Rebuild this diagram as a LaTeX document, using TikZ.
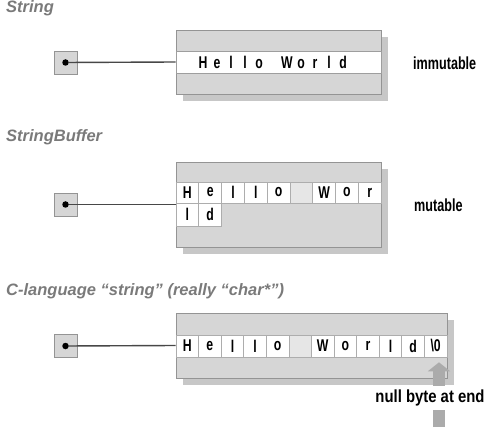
\documentclass[tikz,border=0pt]{standalone}
\usepackage{fontspec}
\setmainfont{Liberation Sans}
\newfontfamily\titlefont{Liberation Sans}
\newfontfamily\labfont[FakeStretch=0.85]{Liberation Sans}
\newfontfamily\narrowlabfont[FakeStretch=0.72]{Liberation Sans}
\newfontfamily\cellfont[FakeStretch=0.72]{Liberation Sans}
\usetikzlibrary{shadows,arrows.meta}
\definecolor{boxgray}{HTML}{D6D6D6}
\definecolor{spacegray}{HTML}{E6E6E6}
\newcommand\celltext{\cellfont\bfseries\fontsize{17}{19}\selectfont}
\newcommand\labtext{\labfont\bfseries\fontsize{17.5}{19}\selectfont}
\newcommand\narrowlabtext{\narrowlabfont\bfseries\fontsize{17.5}{19}\selectfont}
\newcommand\lt[1]{\makebox[14pt]{#1}}
\tikzset{
  membox/.style={draw=black!42, fill=boxgray, inner sep=0pt, line width=0.8pt,
    drop shadow={shadow xshift=7pt, shadow yshift=-7pt, fill=black!22, opacity=1}},
  band/.style={draw=black!38, fill=white, inner sep=0pt, line width=0.6pt},
  cellbox/.style={draw=black!32, fill=white, inner sep=0pt, line width=0.6pt,
    minimum width=22.6pt, minimum height=21pt, font=\celltext},
  ptrbox/.style={draw=black!42, fill=boxgray, minimum size=23pt, inner sep=0pt, line width=0.8pt},
  ptrdot/.style={circle, fill=black, inner sep=0pt, minimum size=6.5pt},
  conn/.style={draw=black!72, line width=1.4pt},
  titletext/.style={anchor=base west, inner sep=0pt, text=black!52,
    font=\titlefont\bfseries\itshape\fontsize{16.5}{19}\selectfont},
  note/.style={inner sep=0pt, font=\labtext},
  narrownote/.style={inner sep=0pt, font=\narrowlabtext},
  bigarrow/.style={draw=black!33, line width=12pt, -{Triangle[width=22pt,length=9pt]}}
}
\begin{document}
\begin{tikzpicture}[x=1pt,y=-1pt]
\useasboundingbox (0,0) rectangle (484,430);

% ---------- String ----------
\node[titletext] (t1) at (6,13) {String};
\node[membox, minimum width=205pt, minimum height=64pt] (b1) at (278.5,62) {};
\node[band, minimum width=205pt, minimum height=22pt] (m1) at (b1.center) {};
\node[font=\celltext, inner sep=0pt] (s1) at (273,62.5) {\lt{H}\lt{e}\lt{l}\lt{l}\lt{o}\lt{ }\lt{W}\lt{o}\lt{r}\lt{l}\lt{d}};
\node[ptrbox] (p1) at (65.5,62.5) {};
\node[ptrdot] (d1) at (p1.center) {};
\draw[conn] (d1) -- (b1.west);
\node[narrownote, anchor=west] (n1) at (413,63) {immutable};

% ---------- StringBuffer ----------
\node[titletext] (t2) at (6,142) {StringBuffer};
\node[membox, minimum width=205pt, minimum height=85pt] (b2) at (278.5,204.5) {};
\foreach \ch/\fl [count=\i] in {H/white,e/white,l/white,l/white,o/white,{}/spacegray,W/white,o/white,r/white}
  \node[cellbox, fill=\fl, minimum width=22.78pt] (c2-\i) at ({176+22.78*\i-11.39},192.5) {\ch};
\node[cellbox, minimum width=22.78pt, minimum height=23pt] (c2-10) at (187.39,214.5) {l};
\node[cellbox, minimum width=22.78pt, minimum height=23pt] (c2-11) at (210.17,214.5) {d};
\node[ptrbox] (p2) at (65.5,204.5) {};
\node[ptrdot] (d2) at (p2.center) {};
\draw[conn] (d2) -- (b2.west);
\node[narrownote, anchor=west] (n2) at (414,205) {mutable};

% ---------- C string ----------
\node[titletext] (t3) at (6,295) {C-language “string” (really “char*”)};
\node[membox, minimum width=271pt, minimum height=65pt] (b3) at (311.5,345.5) {};
\foreach \ch/\fl [count=\i] in {H/white,e/white,l/white,l/white,o/white,{}/spacegray,W/white,o/white,r/white,l/white,d/white,\textbackslash 0/white}
  \node[cellbox, fill=\fl, minimum height=22pt] (c3-\i) at ({176+22.58*\i-11.29},346) {\ch};
\node[ptrbox] (p3) at (65.5,346) {};
\node[ptrdot] (d3) at (p3.center) {};
\draw[conn] (d3) -- (b3.west);
\coordinate (abase) at (439,427);
\draw[bigarrow, shorten >=5pt] (abase) -- (abase |- c3-12.south);
\node[note, fill=white, minimum height=24pt, inner xsep=2pt] (n3) at (430,398) {null byte at end};
\end{tikzpicture}
\end{document}
